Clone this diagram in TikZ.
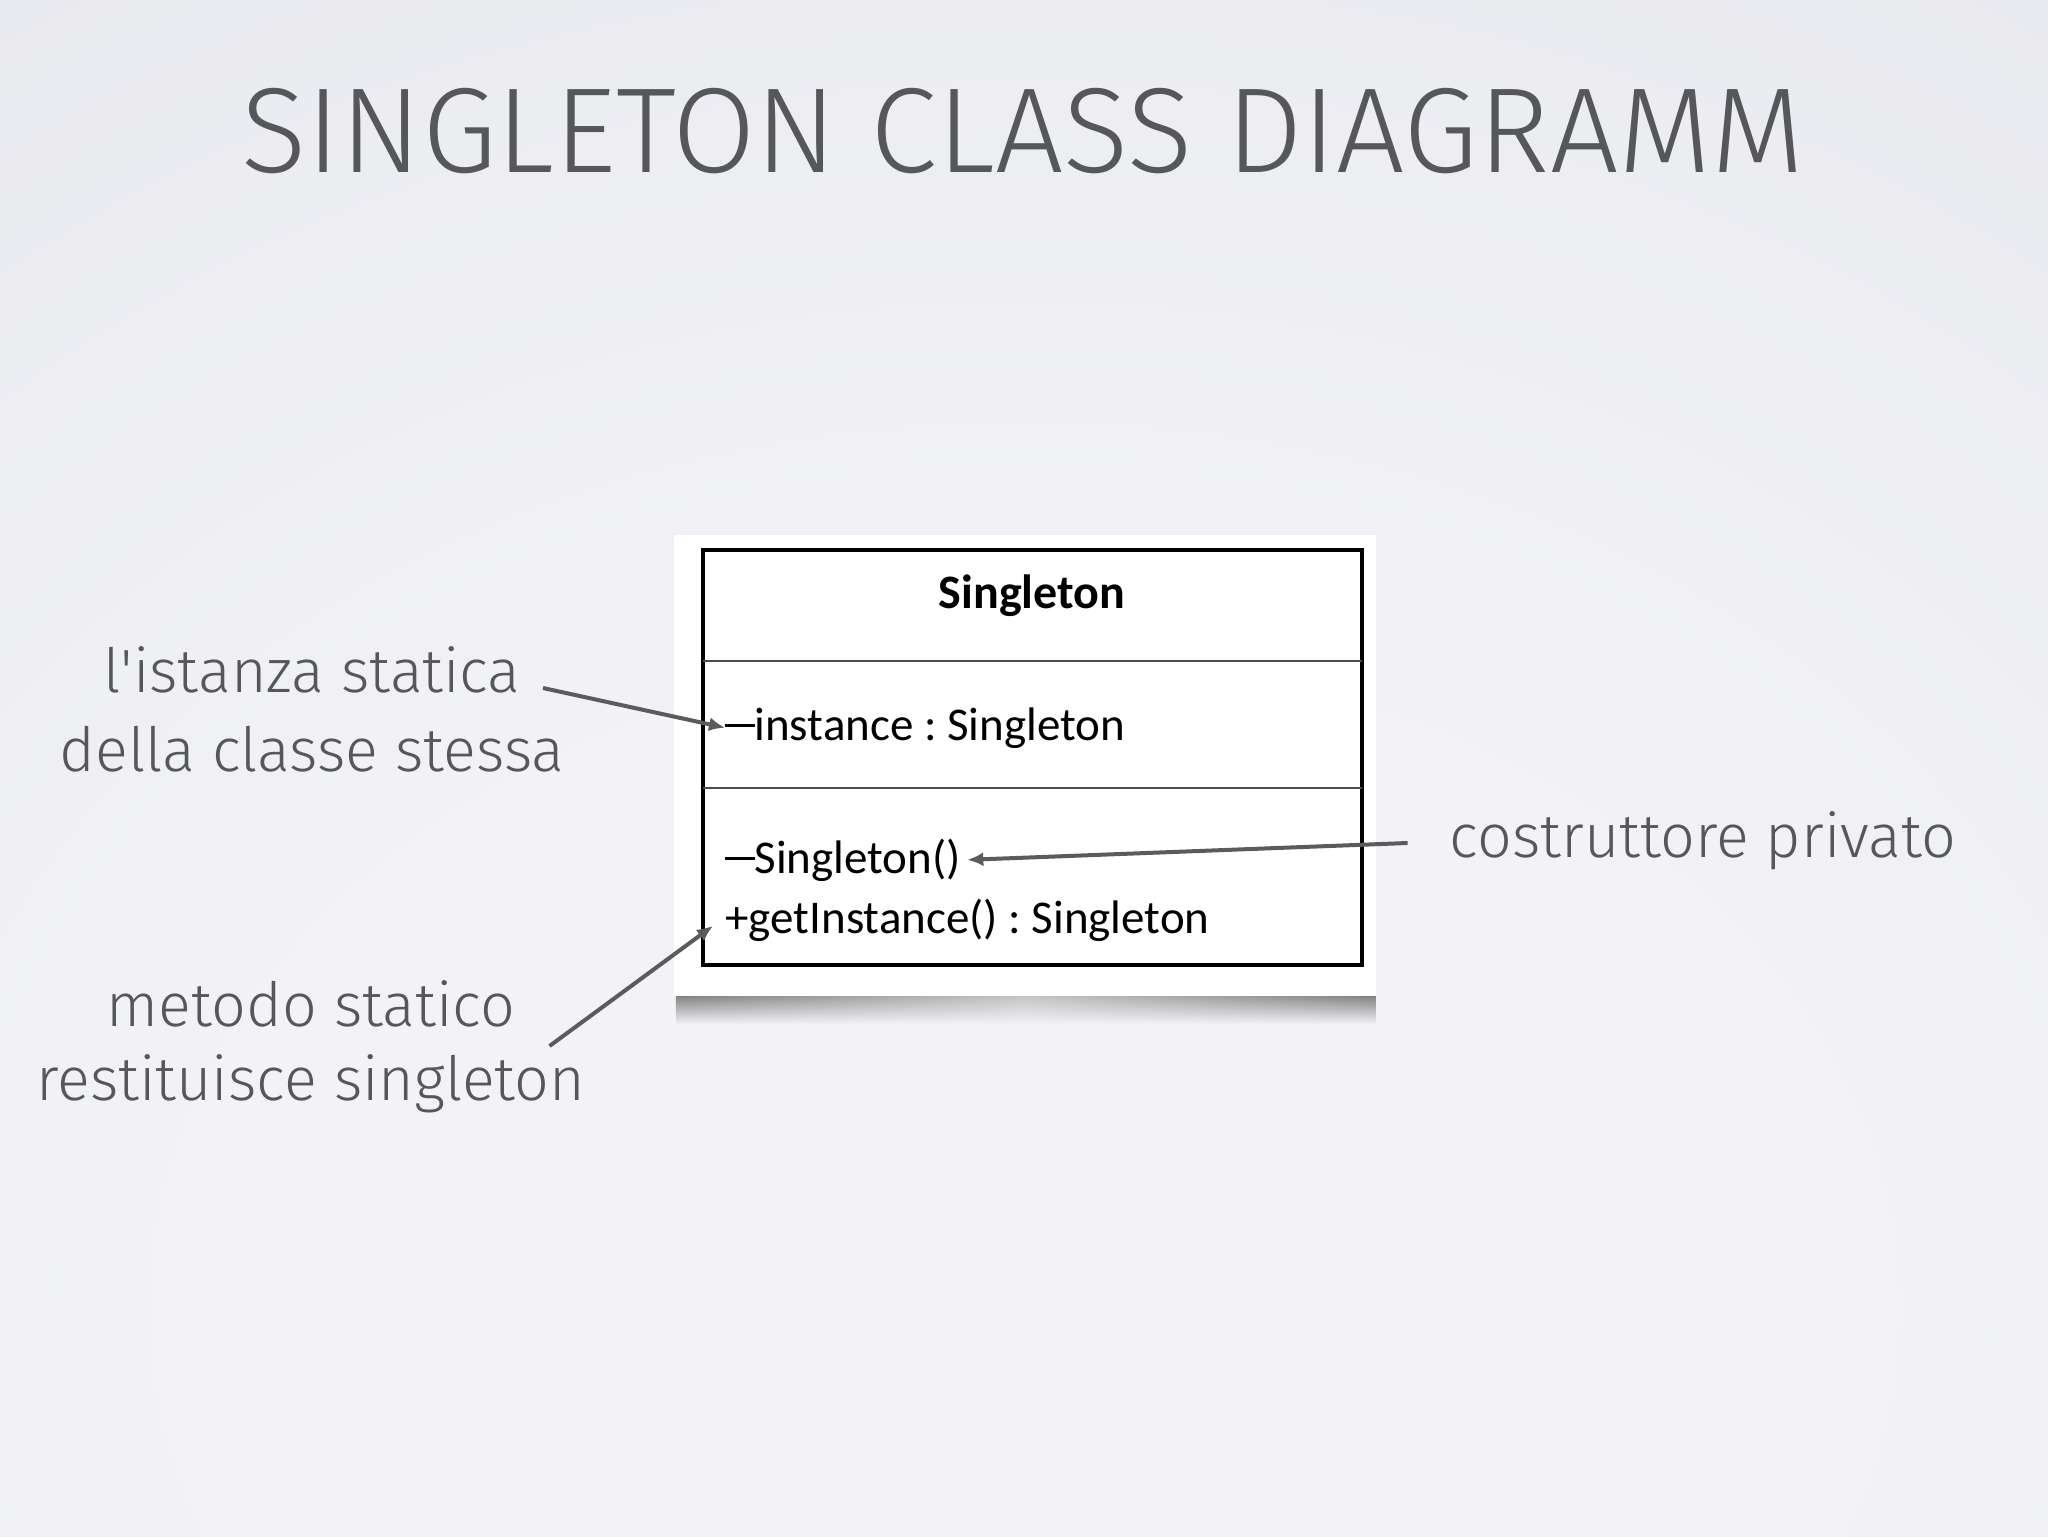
\documentclass[tikz,border=0pt]{standalone}
\usepackage{fontspec}
\setmainfont{Fira Sans Light}
\newfontfamily\umlfont{Carlito}
\usepackage{tikz}
\usetikzlibrary{positioning, arrows.meta, calc, fadings}
\usepackage{xcolor}

\definecolor{bgin}{HTML}{F3F3F7}
\definecolor{bgmid}{HTML}{E7E8ED}
\definecolor{bgout}{HTML}{D0D4DB}
\definecolor{slidetext}{HTML}{56575B}
\definecolor{pointergray}{HTML}{5A5B5E}
\pgfdeclareradialshading{slidebg}{\pgfpoint{0bp}{-25bp}}{color(0bp)=(bgin); color(20bp)=(bgin); color(48bp)=(bgmid); color(72bp)=(bgout)}
\newcommand{\umldash}{\rule[0.28em]{0.62em}{0.07em}}

\begin{document}
\begin{tikzpicture}[
        x=0.5pt, y=-0.5pt,
        node distance=40pt, % line spacing of the side labels
        on grid,
        title/.style={font=\fontsize{60.5}{66}\selectfont, text=slidetext, inner sep=0pt},
        label/.style={font=\fontsize{30.5}{38}\selectfont, text=slidetext, inner sep=0pt},
        member/.style={font=\umlfont\fontsize{23.5}{28}\selectfont, anchor=base west, inner sep=0pt},
        pointer/.style={draw=pointergray, line width=2pt, -{Latex[length=8pt, width=7pt]}}
      ]
        % slide background
        \useasboundingbox (0,0) rectangle (2048,1536);
        \fill[shading=slidebg] (0,0) rectangle (2048,1536);

        \node[title, anchor=base] (title) at (1023,172) {SINGLETON CLASS DIAGRAMM};

        % picture of the class: card, shadow, box
        \shade[left color=black!55, right color=black!55, middle color=black!25, path fading=south] (676,992) rectangle (1376,1024);
        \fill[white] (674,535) rectangle (1376,996);
        \draw[line width=2pt] (703,550) rectangle (1362,965);
        \draw[black!70, line width=0.8pt] (703,661) -- (1362,661);
        \draw[black!70, line width=0.8pt] (703,788) -- (1362,788);

        \node[font=\umlfont\bfseries\fontsize{24}{28}\selectfont, anchor=base, inner sep=0pt] (classname) at (1032,608) {Singleton};
        \node[member] (attrinst) at (725,740) {\umldash instance\ :\ Singleton};
        \node[member] (ctorop) at (725,873) {\umldash Singleton()};
        \node[member] (getinst) at (725,933) {+getInstance()\ :\ Singleton};

        % side labels
        \node[label, anchor=base] (lblinstA) at (312,692) {l\textquotesingle istanza statica};
        \node[label, anchor=base, below=of lblinstA] (lblinstB) {della classe stessa};
        \node[label, anchor=base] (lblmetA) at (311,1026) {metodo statico};
        \node[label, anchor=base, below=of lblmetA] (lblmetB) {restituisce singleton};
        \node[label, anchor=base] (lblctor) at (1703,857) {costruttore privato};

        % pointers into the class
        \draw[pointer] ([xshift=11pt, yshift=2pt]lblinstA.base east) -- (attrinst.west);
        \draw[pointer] ([xshift=-21pt, yshift=7pt]lblctor.base west) -- ([xshift=3pt]ctorop.east);
        \draw[pointer] ([xshift=17pt, yshift=-10pt]lblmetA.base east) -- ([xshift=-6pt, yshift=-3pt]getinst.west);
    \end{tikzpicture}
\end{document}
